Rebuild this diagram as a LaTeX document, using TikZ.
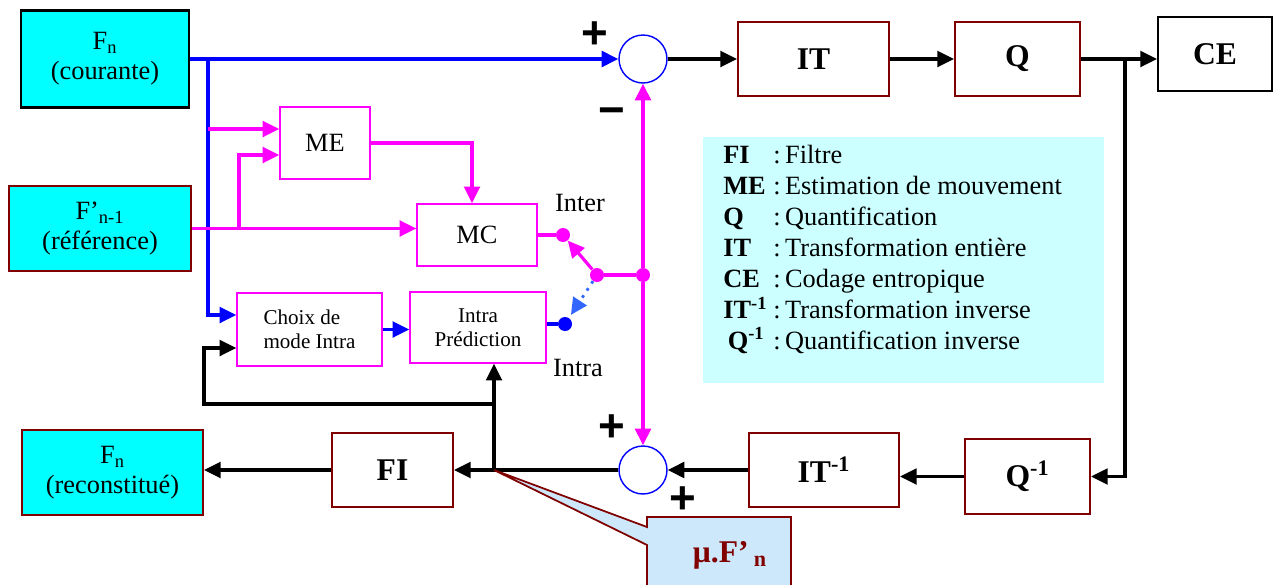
\documentclass[tikz,border=0pt]{standalone}
\usepackage{fontspec}
\setmainfont{Liberation Serif}
\setsansfont{Liberation Sans}
\usetikzlibrary{arrows.meta,positioning,calc}
\definecolor{darkred}{HTML}{800000}
\definecolor{magen}{HTML}{FF00FF}
\definecolor{aqua}{HTML}{00FFFF}
\definecolor{legendbg}{HTML}{CCFFFF}
\definecolor{calloutbg}{HTML}{CCE8FA}
\definecolor{dotblue}{HTML}{3366FF}

\begin{document}
\begin{tikzpicture}[
      x=0.02cm, y=-0.02cm,
      src/.style={draw=darkred, fill=aqua, line width=1.2pt, inner sep=0pt, align=center, font=\fontsize{15}{17}\selectfont},
      blk/.style={draw=darkred, line width=1.2pt, inner sep=0pt, minimum height=1.48cm, font=\fontsize{18}{20}\selectfont\bfseries},
      mbox/.style={draw=magen, line width=0.9pt, inner sep=0pt, align=center, font=\fontsize{15}{17}\selectfont},
      small/.style={font=\fontsize{12}{13.6}\selectfont},
      sumc/.style={circle, draw=blue, line width=0.8pt, minimum size=0.96cm, inner sep=0pt},
      jdot/.style={circle, fill=#1, inner sep=0pt, minimum size=0.28cm},
      sign/.style={inner sep=0pt, font=\fontsize{26}{26}\selectfont\sffamily\bfseries},
      lbl/.style={inner sep=0pt, font=\fontsize{15}{17}\selectfont},
      wire/.style={line width=1.8pt},
      arrow/.style={-{Triangle[length=9.5pt,width=9pt]}, line width=1.8pt}
  ]
      \useasboundingbox (0,0) rectangle (1275,585);

      \node[src, draw=black, minimum width=3.36cm, minimum height=1.94cm] (fcur) at (105,59) {F\textsubscript{n}\\(courante)};
      \node[src, minimum width=3.64cm, minimum height=1.70cm] (fref) at (100,228.5) {F’\textsubscript{n-1}\\(référence)};
      \node[src, minimum width=3.62cm, minimum height=1.70cm] (frec) at (112.5,472.5) {F\textsubscript{n}\\(reconstitué)};

      \node[sumc] (sum1) at (643,59) {};
      \node[blk, minimum width=3.02cm] (it) at (813.5,59) {IT};
      \node[blk, minimum width=2.50cm] (q) at (1017.5,59) {Q};
      \node[blk, draw=black, minimum width=2.28cm] (ce) at (1215,54) {CE};

      \node[mbox, minimum width=1.80cm, minimum height=1.44cm] (me) at (325,143) {ME};
      \node[mbox, minimum width=2.40cm, minimum height=1.24cm] (mc) at (477,235) {MC};
      \node[mbox, small, align=left, minimum width=2.90cm, minimum height=1.46cm] (choix) at (309.5,329.5) {Choix de\\mode Intra};
      \node[mbox, small, minimum width=2.72cm, minimum height=1.42cm] (intra) at (478,327.5) {Intra\\Prédiction};

      \node[blk, minimum width=2.42cm] (fi) at (392.5,470) {FI};
      \node[sumc] (sum2) at (643,470) {};
      \node[blk, minimum width=3.00cm] (itinv) at (824,470) {IT\textsuperscript{-1}};
      \node[blk, minimum width=2.50cm, minimum height=1.50cm] (qinv) at (1027.5,476.5) {Q\textsuperscript{-1}};

      \node[jdot=magen] (inter) at (563,235) {};
      \node[jdot=magen] (pivot) at (597,275) {};
      \node[jdot=magen] (junc) at (643,275) {};
      \node[jdot=blue] (intrad) at (565,324) {};

      \node[lbl] (interlbl) at (580,203) {Inter};
      \node[lbl] (intralbl) at (578,368) {Intra};
      \node[sign] (plus1) at (595,35) {+};
      \node[sign] (minus1) at (612,117) {−};
      \node[sign] (plus2) at (612,428) {+};
      \node[sign] (plus3) at (683,500) {+};

      \node[fill=legendbg, inner sep=0pt, minimum width=8.02cm, minimum height=4.92cm, anchor=north west] (legend) at (703,137) {};
      \node[inner sep=0pt, anchor=north west, align=left, font=\fontsize{15}{17.6}\selectfont] (legtxt) at ($(legend.north west)+(20,8)$) {%
        \makebox[1.9em][l]{\textbf{FI}}:\,Filtre\\
        \makebox[1.9em][l]{\textbf{ME}}:\,Estimation de mouvement\\
        \makebox[1.9em][l]{\textbf{Q}}:\,Quantification\\
        \makebox[1.9em][l]{\textbf{IT}}:\,Transformation entière\\
        \makebox[1.9em][l]{\textbf{CE}}:\,Codage entropique\\
        \makebox[1.9em][l]{\textbf{IT\textsuperscript{-1}}}:\,Transformation inverse\\
        \makebox[1.9em][l]{\,\textbf{Q\textsuperscript{-1}}}:\,Quantification inverse};

      \coordinate (b1) at (208,59);
      \coordinate (r1) at (239,228.5);
      \coordinate (mein1) at ($(me.west)+(0,-14)$);
      \coordinate (mein2) at ($(me.west)+(0,12)$);
      \coordinate (mcin) at ($(mc.north)+(-5,0)$);
      \coordinate (choixin1) at ($(choix.west)+(0,-14.5)$);
      \coordinate (choixin2) at ($(choix.west)+(0,18.5)$);
      \coordinate (intrain) at ($(intra.south)+(16,0)$);
      \coordinate (j2) at (intrain |- fi.east);
      \coordinate (j3) at ($(j2)+(0,-66)$);
      \coordinate (fb) at (204,404);
      \coordinate (br) at (1125,59);

      \draw[arrow, blue] (fcur.east) -- (sum1.west);
      \draw[arrow, blue] (b1) |- (choixin1);
      \draw[arrow, magen] (b1 |- mein1) -- (mein1);
      \draw[arrow, magen] (r1) |- (mein2);
      \draw[arrow, magen] (fref.east) -- (fref.east -| mc.west);
      \draw[arrow, magen] (me.east) -| (mcin);
      \draw[wire, magen] (mc.east) -- (inter);
      \draw[arrow, magen] (pivot) -- (inter);
      \draw[wire, magen] (pivot) -- (junc);
      \draw[arrow, magen] (junc) -- (sum1.south);
      \draw[arrow, magen] (junc) -- (sum2.north);
      \draw[wire, blue] (intrad -| intra.east) -- (intrad);
      \draw[arrow, dotblue, line width=1.6pt, dash pattern=on 1.6pt off 3.2pt, shorten >=2pt] (pivot) -- (intrad);
      \draw[arrow, blue] (choix.east) -- (choix.east -| intra.west);

      \draw[arrow] (sum1.east) -- (it.west);
      \draw[arrow] (it.east) -- (q.west);
      \draw[arrow] (q.east) -- (q.east -| ce.west);
      \draw[arrow] (br) |- (qinv.east);
      \draw[arrow] (qinv.west) -- (qinv.west -| itinv.east);
      \draw[arrow] (itinv.west) -- (sum2.east);
      \draw[arrow] (sum2.west) -- (fi.east);
      \draw[arrow] (fi.west) -- (fi.west -| frec.east);
      \draw[arrow] (j2) -- (intrain);
      \draw[arrow] (j3) -- (fb) |- (choixin2);

      \filldraw[fill=calloutbg, draw=darkred, line width=1pt] (647,590) -- (647,545) -- (j2) -- (647,527) -- (647,517) -- (791,517) -- (791,590);
      \node[inner sep=0pt, text=darkred, font=\fontsize{18}{20}\selectfont\bfseries] (mu) at (730,555) {μ.F’\,\textsubscript{n}};
  \end{tikzpicture}
\end{document}
